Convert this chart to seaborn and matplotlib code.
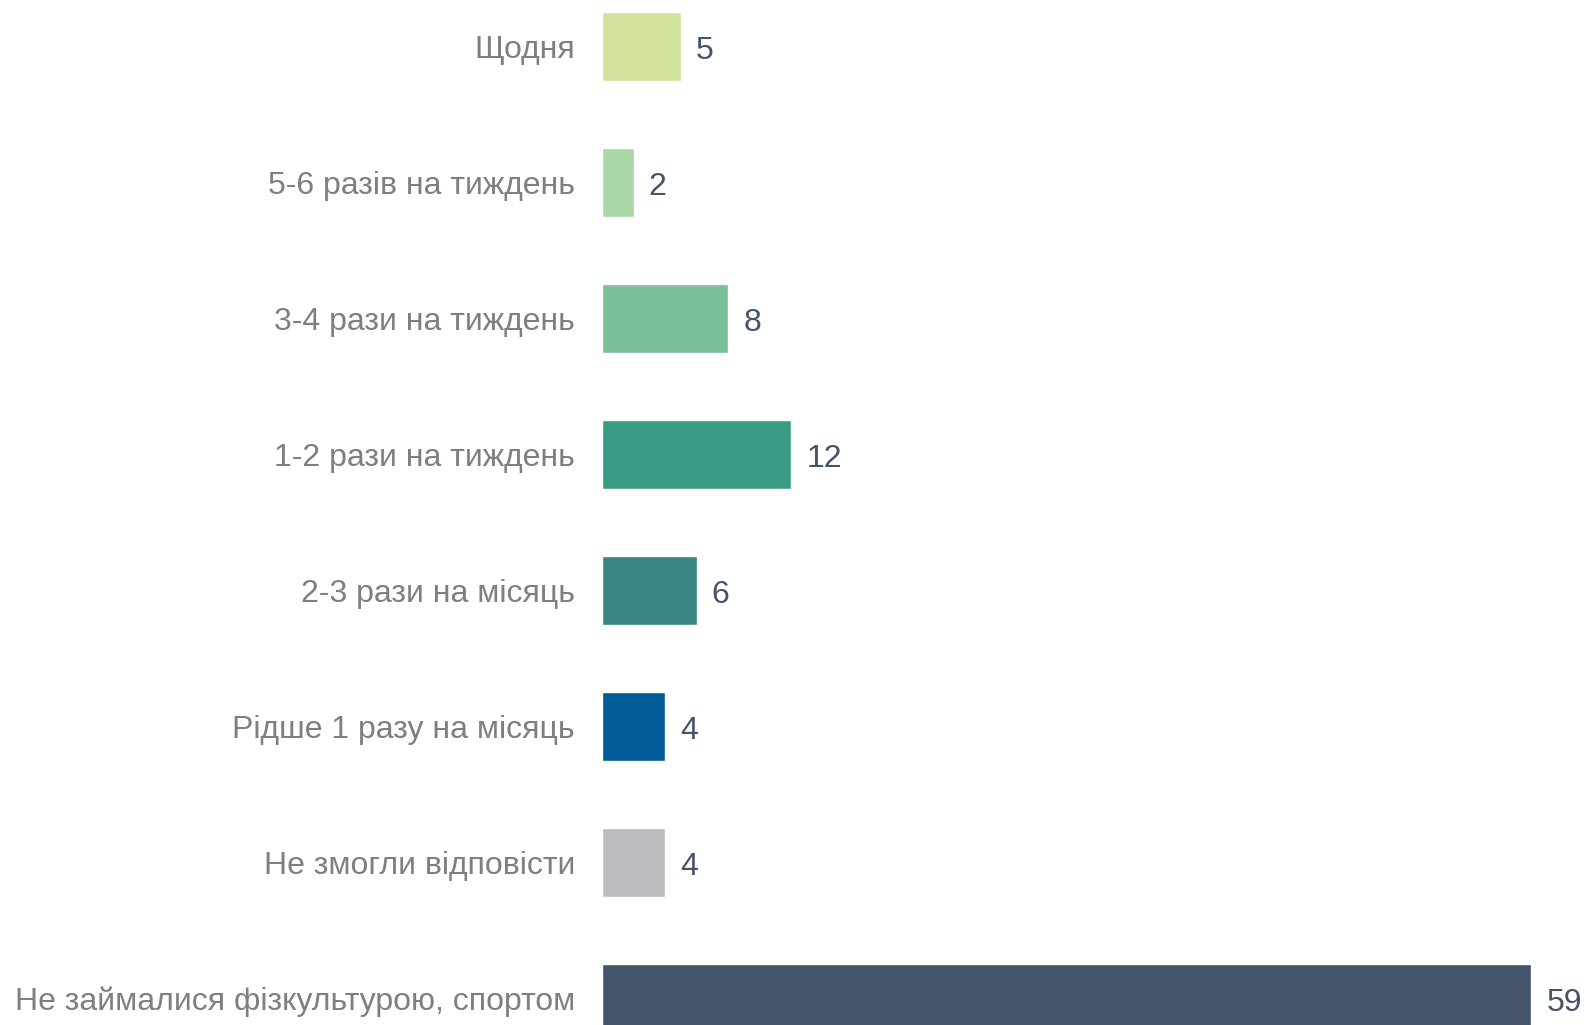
import matplotlib
matplotlib.use("Agg")
import matplotlib.pyplot as plt
import seaborn as sns
import pandas as pd

# Chart data
categories = [
    "Щодня",
    "5-6 разів на тиждень",
    "3-4 рази на тиждень",
    "1-2 рази на тиждень",
    "2-3 рази на місяць",
    "Рідше 1 разу на місяць",
    "Не змогли відповісти",
    "Не займалися фізкультурою, спортом",
]
values = [5, 2, 8, 12, 6, 4, 4, 59]
bar_colors = ["#D1E29C", "#A9D7A7", "#7CC09B", "#3B9C84",
              "#3A8482", "#005B96", "#BBBCBF", "#44546A"]

df = pd.DataFrame({"category": categories, "value": values})

sns.set_style("white")
plt.rcParams["font.family"] = ["Liberation Sans", "DejaVu Sans"]

fig = plt.figure(figsize=(15.88, 10.25), dpi=100)
# axes placed so x=0 sits at ~603px from the left edge
ax = fig.add_axes([602 / 1588, 0, 1 - 602 / 1588, 1])

sns.barplot(data=df, x="value", y="category", hue="category",
            palette=bar_colors, legend=False, orient="h",
            width=0.507, saturation=1, ax=ax)

# value labels
for i, v in enumerate(values):
    ax.annotate(str(v), xy=(v, i), xytext=(11, -1), textcoords="offset points",
                va="center_baseline", ha="left", fontsize=23, color="#44546A")

ax.set_xlim(0, 62.6)
ax.set_ylim(7.195, -0.342)
ax.set_xlabel("")
ax.set_ylabel("")
ax.set_xticks([])
ax.tick_params(axis="y", length=0, pad=19.5, labelsize=23, labelcolor="#7F7F7F")
sns.despine(ax=ax, left=True, bottom=True)

fig.savefig("out.png", dpi=100)
